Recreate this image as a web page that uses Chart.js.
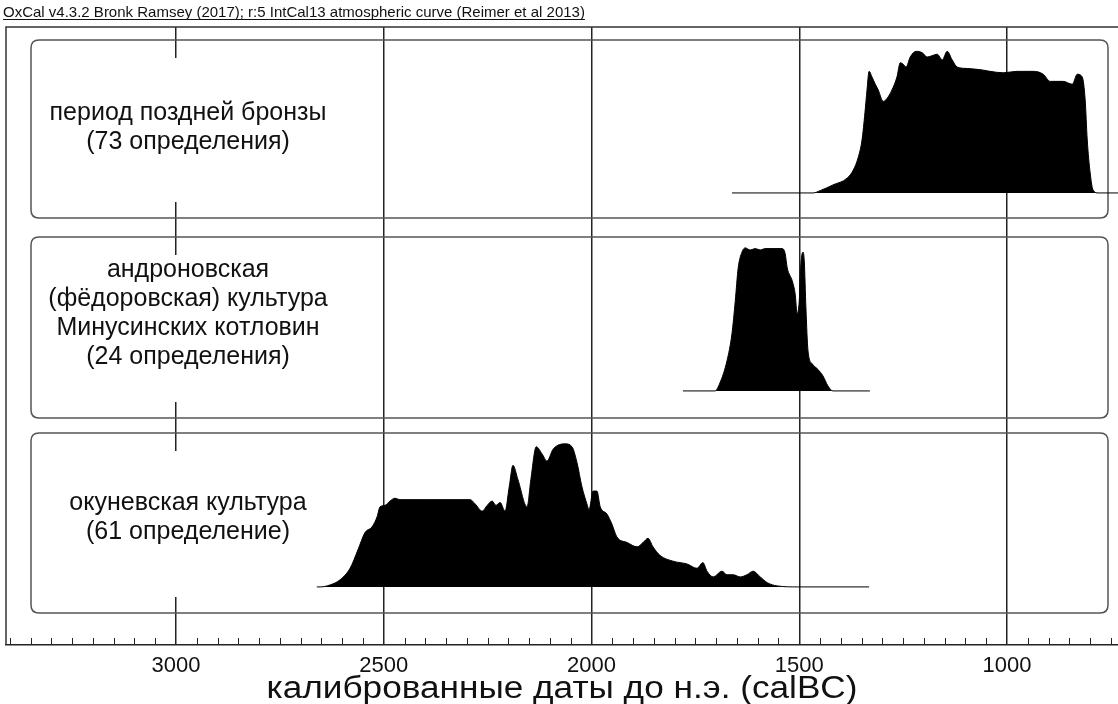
<!DOCTYPE html>
<html>
<head>
<meta charset="utf-8">
<script src="https://cdn.jsdelivr.net/npm/chart.js@4.4.0/dist/chart.umd.min.js"></script>
<style>
  html, body { margin: 0; padding: 0; background: #fff; }
  canvas { display: block; }
</style>
</head>
<body>
<canvas id="Cnvs" width="1118" height="704"></canvas>
<script>
// texts
var headerText = 'OxCal v4.3.2 Bronk Ramsey (2017); r:5 IntCal13 atmospheric curve (Reimer et al 2013)';
var axisTitle = 'калиброванные даты до н.э. (calBC)';
var tickYears = [3000, 2500, 2000, 1500, 1000];
var rowLabels = [
  ['период поздней бронзы', '(73 определения)'],
  ['андроновская', '(фёдоровская) культура', 'Минусинских котловин', '(24 определения)'],
  ['окуневская культура', '(61 определение)']
];

// summed probability, calBC year -> relative probability (max = 100)
var bronzeYears = [1662, 1498, 1467, 1450, 1419, 1385, 1370, 1358, 1349, 1342, 1337, 1332, 1325, 1317, 1310, 1298, 1289, 1277, 1265, 1257, 1250, 1243, 1233, 1219, 1204, 1192, 1180, 1168, 1156, 1144, 1132, 1120, 1096, 1060, 1041, 1009, 976, 937, 913, 896, 865, 843, 831, 819, 812, 807, 800, 793, 781, 733];
var bronzeProb  = [0, 0, 0, 1.6, 5.6, 10.3, 16, 25, 37, 56, 72, 85, 81, 76, 72, 64, 66, 72, 81, 91, 90, 88, 95, 99, 98, 95, 96, 97, 93, 99, 93, 88, 87, 86, 85, 84, 85, 85, 83, 78, 78, 76, 83, 81, 65, 37, 14, 2, 0, 0];

var andronovoYears = [1780, 1703, 1691, 1674, 1662, 1654, 1647, 1638, 1630, 1618, 1606, 1594, 1582, 1563, 1541, 1534, 1529, 1517, 1510, 1505, 1500, 1496, 1491, 1488, 1484, 1479, 1469, 1455, 1443, 1431, 1419, 1330];
var andronovoProb  = [0, 0, 5.6, 21, 40, 63, 86, 97, 100, 98.5, 99.5, 98.5, 99.5, 99.5, 99.5, 96, 86, 77, 68, 54, 63, 89, 97, 91, 58, 28, 19, 15, 10.5, 3.5, 0, 0];

var okunevYears = [2661, 2653, 2629, 2605, 2581, 2562, 2545, 2528, 2516, 2509, 2497, 2485, 2473, 2461, 2396, 2292, 2280, 2263, 2251, 2239, 2230, 2220, 2208, 2198, 2189, 2177, 2155, 2146, 2133, 2119, 2107, 2093, 2081, 2064, 2047, 2035, 2023, 2011, 2006, 1996, 1987, 1979, 1963, 1951, 1939, 1914, 1890, 1876, 1864, 1852, 1835, 1804, 1770, 1746, 1732, 1722, 1707, 1686, 1674, 1659, 1642, 1626, 1611, 1594, 1577, 1553, 1505, 1332];
var okunevProb  = [0, 0, 1.4, 5, 13, 26, 38, 42, 49, 56, 57, 60, 62, 61, 61, 61, 58, 53, 57, 60, 57, 59, 53, 70, 85, 75, 56, 75, 98, 93, 88, 96, 99, 100, 98, 87, 70, 58, 54, 67, 67, 56, 51, 44, 35, 31, 28, 31, 34, 28, 22, 18, 16, 13, 17, 11, 7, 11, 8.5, 8.5, 7, 8.5, 11, 7, 3, 0.7, 0, 0];

// layout
var rowOffsets = [316, 177.6, 40.6];           // baselines in y-scale units
var boxes = [[40, 218], [237, 418], [433, 613]]; // px
var labelTops = [113, 270, 503];
var labelCenterX = 188;
var lineGap = 29;

function makeRow(years, prob, off) {
  var pts = [];
  for (var i = 0; i < years.length; i++) pts.push({x: years[i], y: off + prob[i]});
  return {
    data: pts,
    borderColor: '#000',
    borderWidth: 1,
    backgroundColor: '#000',
    fill: {value: off},
    pointRadius: 0,
    cubicInterpolationMode: 'monotone'
  };
}

function roundRect(ctx, x, y, w, h, r) {
  ctx.beginPath();
  ctx.moveTo(x + r, y);
  ctx.lineTo(x + w - r, y);
  ctx.quadraticCurveTo(x + w, y, x + w, y + r);
  ctx.lineTo(x + w, y + h - r);
  ctx.quadraticCurveTo(x + w, y + h, x + w - r, y + h);
  ctx.lineTo(x + r, y + h);
  ctx.quadraticCurveTo(x, y + h, x, y + h - r);
  ctx.lineTo(x, y + r);
  ctx.quadraticCurveTo(x, y, x + r, y);
  ctx.closePath();
}

var oxcalDecor = {
  id: 'oxcalDecor',
  beforeDatasetsDraw: function(chart) {
    var ctx = chart.ctx, a = chart.chartArea;
    ctx.save();
    // white label areas hide the 3000 line
    ctx.fillStyle = '#fff';
    for (var i = 0; i < boxes.length; i++) {
      ctx.fillRect(40, boxes[i][0] + 18, 320, boxes[i][1] - boxes[i][0] - 34);
    }
    // frame top + left
    ctx.strokeStyle = '#333';
    ctx.lineWidth = 1.5;
    ctx.beginPath();
    ctx.moveTo(a.left, a.bottom);
    ctx.lineTo(a.left, a.top);
    ctx.lineTo(a.right, a.top);
    ctx.stroke();
    // boxes
    ctx.strokeStyle = '#555';
    ctx.lineWidth = 1.5;
    for (var j = 0; j < boxes.length; j++) {
      roundRect(ctx, 31, boxes[j][0], 1077, boxes[j][1] - boxes[j][0], 8);
      ctx.stroke();
    }
    ctx.restore();
  },
  afterDraw: function(chart) {
    var ctx = chart.ctx, xs = chart.scales.x, a = chart.chartArea;
    ctx.save();
    // minor ticks every 50 years
    ctx.strokeStyle = '#222';
    ctx.lineWidth = 1;
    ctx.beginPath();
    for (var yr = 3400; yr >= 750; yr -= 50) {
      if (yr % 500 === 0) continue;
      var px = Math.round(xs.getPixelForValue(yr)) + 0.5;
      ctx.moveTo(px, a.bottom);
      ctx.lineTo(px, a.bottom - 7);
    }
    ctx.stroke();

    // header
    ctx.fillStyle = '#111';
    ctx.font = '15px "Liberation Sans", Arial, sans-serif';
    ctx.textBaseline = 'alphabetic';
    ctx.textAlign = 'left';
    ctx.fillText(headerText, 3, 17, 585);
    var w = Math.min(ctx.measureText(headerText).width, 585);
    ctx.fillRect(3, 19, w, 1);

    // row labels
    ctx.fillStyle = '#111';
    ctx.font = '25px "Liberation Sans", Arial, sans-serif';
    ctx.textAlign = 'center';
    ctx.textBaseline = 'middle';
    for (var r = 0; r < rowLabels.length; r++) {
      for (var k = 0; k < rowLabels[r].length; k++) {
        ctx.fillText(rowLabels[r][k], labelCenterX, labelTops[r] + k * lineGap);
      }
    }

    // axis title, stretched to the reference width
    ctx.font = '31px "Liberation Sans", Arial, sans-serif';
    var tw = ctx.measureText(axisTitle).width;
    ctx.translate(562, 689);
    ctx.scale(591 / tw, 1);
    ctx.fillText(axisTitle, 0, 0);
    ctx.restore();
  }
};

new Chart(document.getElementById('Cnvs'), {
  type: 'line',
  data: {
    datasets: [
      makeRow(bronzeYears, bronzeProb, rowOffsets[0]),
      makeRow(andronovoYears, andronovoProb, rowOffsets[1]),
      makeRow(okunevYears, okunevProb, rowOffsets[2])
    ]
  },
  options: {
    responsive: false,
    animation: false,
    layout: { padding: { left: 6, top: 27, right: 0, bottom: 0 } },
    plugins: { legend: { display: false }, tooltip: { enabled: false } },
    scales: {
      x: {
        type: 'linear',
        reverse: true,
        min: 733,
        max: 3409,
        afterFit: function(s) { s.height = 59; },
        afterBuildTicks: function(s) {
          s.ticks = tickYears.map(function(v) { return {value: v}; });
        },
        ticks: {
          autoSkip: false,
          maxRotation: 0,
          padding: 8,
          color: '#111',
          font: { family: '"Liberation Sans", Arial, sans-serif', size: 22 },
          callback: function(v) { return String(v); }
        },
        grid: { color: '#222', lineWidth: 1.5, drawTicks: false },
        border: { color: '#222', width: 1.5 }
      },
      y: {
        display: false,
        min: 0,
        max: 432
      }
    }
  },
  plugins: [oxcalDecor]
});
</script>
</body>
</html>
